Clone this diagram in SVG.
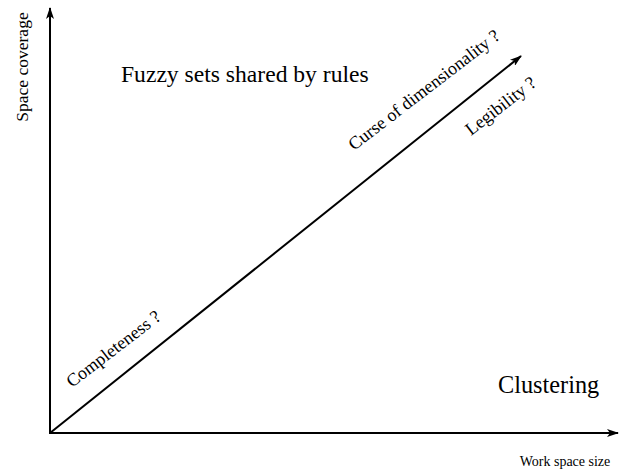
<svg xmlns="http://www.w3.org/2000/svg" width="624" height="473" viewBox="0 0 624 473">
<defs>
<marker id="ah" viewBox="0 0 12 8" refX="11" refY="4" markerWidth="12" markerHeight="8" markerUnits="userSpaceOnUse" orient="auto">
<path d="M0,0 L12,4 L0,8 L3,4 Z" fill="#000"/>
</marker>
<style>
.t{font-family:"Liberation Serif",serif;fill:#000}
.big{font-size:23.6px}
.sm{font-size:14px}
.md{font-size:17.5px}
.dg{font-size:18px}
.ln{stroke:#000;stroke-width:2;fill:none}
</style>
</defs>
<rect width="624" height="473" fill="#fff"/>
<g id="connectors">
<line class="ln" x1="50" y1="434" x2="50" y2="8" marker-end="url(#ah)"/>
<line class="ln" x1="49" y1="433" x2="618" y2="433" marker-end="url(#ah)"/>
<line class="ln" stroke-width="1.6" x1="50" y1="433" x2="521" y2="56" marker-end="url(#ah)"/>
</g>
<g id="axis-y-label"><text class="t md" transform="translate(28,67) rotate(-90)" text-anchor="middle">Space coverage</text></g>
<g id="axis-x-label"><text class="t sm" x="565" y="466" text-anchor="middle">Work space size</text></g>
<g id="fuzzy"><text class="t big" x="121" y="82">Fuzzy sets shared by rules</text></g>
<g id="clustering"><text class="t big" x="498" y="393" style="font-size:24.3px">Clustering</text></g>
<g id="completeness"><text class="t dg" transform="translate(72,388) rotate(-37.5)">Completeness ?</text></g>
<g id="curse"><text class="t dg" transform="translate(354,151) rotate(-37.5)">Curse of dimensionality ?</text></g>
<g id="legibility"><text class="t dg" transform="translate(471,136) rotate(-37.5)">Legibility ?</text></g>
</svg>
